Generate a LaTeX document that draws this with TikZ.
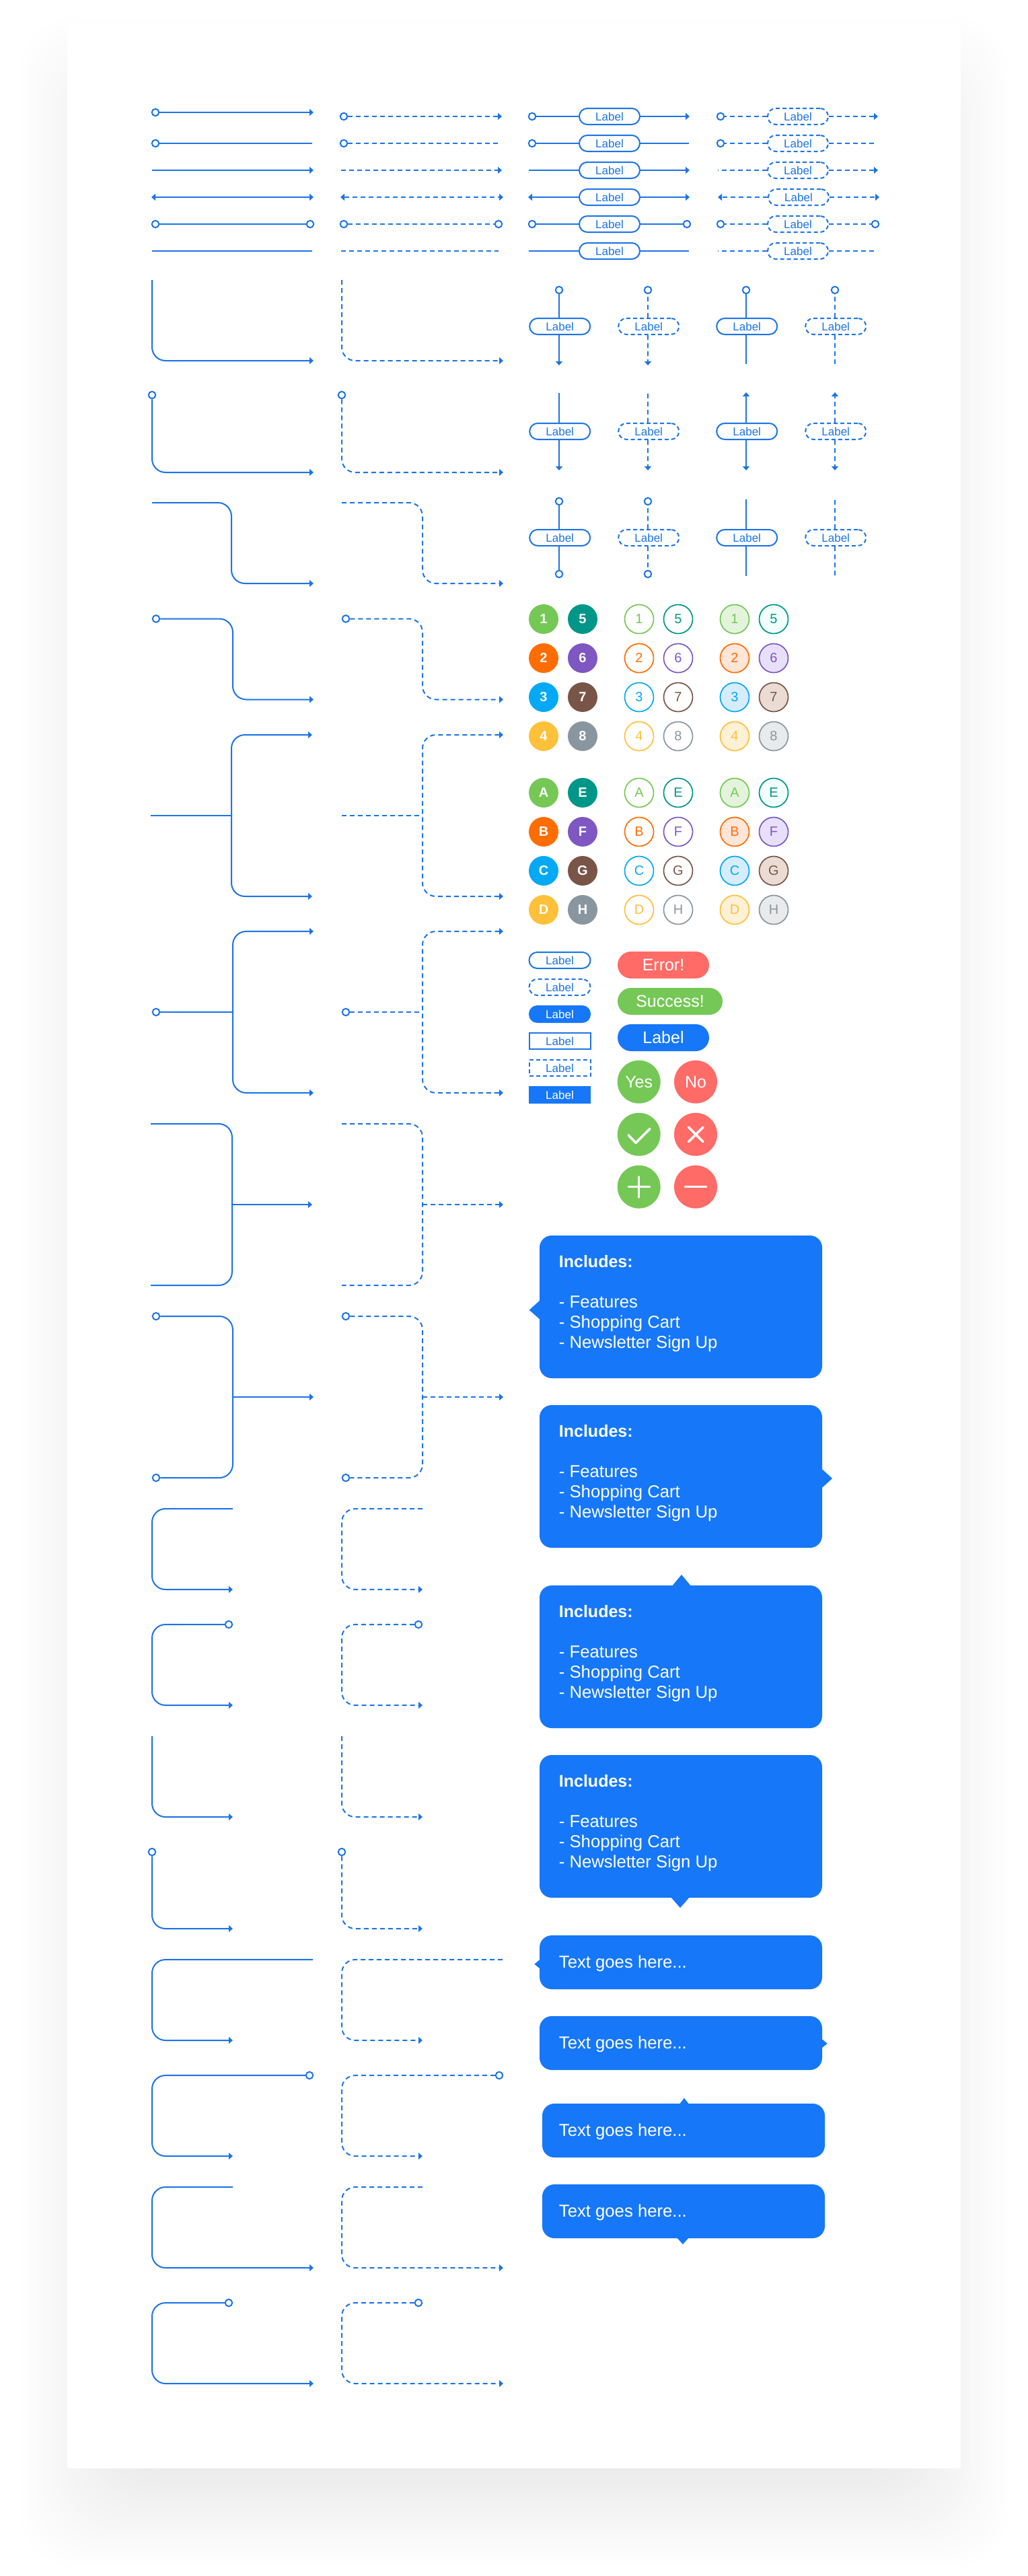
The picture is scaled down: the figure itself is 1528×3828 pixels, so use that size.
\documentclass[tikz,border=0pt]{standalone}
\usepackage{fontspec}
\setmainfont{Liberation Sans}
\usetikzlibrary{arrows.meta}
\definecolor{wirecol}{HTML}{1C74E6}
\definecolor{fillblue}{HTML}{1677F9}
\definecolor{redc}{HTML}{FF6B66}
\definecolor{greenc}{HTML}{75C856}
\definecolor{bA}{HTML}{75C856}\definecolor{lA}{HTML}{E3F3DC}
\definecolor{bB}{HTML}{FF6D00}\definecolor{lB}{HTML}{FFE6D9}
\definecolor{bC}{HTML}{03A9F4}\definecolor{lC}{HTML}{D6EDFF}
\definecolor{bD}{HTML}{FFC03A}\definecolor{lD}{HTML}{FFF1D6}
\definecolor{bE}{HTML}{009688}\definecolor{lE}{HTML}{F2FFFD}
\definecolor{bF}{HTML}{7E57C2}\definecolor{lF}{HTML}{E8E0FA}
\definecolor{bG}{HTML}{795548}\definecolor{lG}{HTML}{EADCD3}
\definecolor{bH}{HTML}{8A969F}\definecolor{lH}{HTML}{E8EAEC}
\newcommand\fsz[1]{\fontsize{#1}{#1}\selectfont}
\tikzset{
  Tp/.tip={Triangle[length=6pt,width=10pt]},
  wire/.style={draw=wirecol,line width=2pt},
  wired/.style={wire,dash pattern=on 7pt off 5pt},
  turn/.style={rounded corners=20pt},
  ring/.style={circle,draw=wirecol,line width=2pt,fill=white,inner sep=0pt,minimum size=10.5pt},
  tipcc/.style={},tipcr/.style={},tiprc/.style={},tiprr/.style={},
  tipca/.style={-Tp},tipra/.style={-Tp},tipaa/.style={Tp-Tp},
  pillbase/.style={rectangle,inner sep=0pt,minimum width=90pt,minimum height=24pt,text=wirecol,font=\fsz{17},line width=2pt},
  pillS/.style={pillbase,draw=wirecol,fill=white,rounded corners=12pt},
  pillD/.style={pillS,dash pattern=on 6pt off 4pt},
  pillF/.style={pillbase,fill=fillblue,text=white,rounded corners=12.5pt},
  rectS/.style={pillbase,draw=wirecol,fill=white},
  rectD/.style={rectS,dash pattern=on 6pt off 4pt},
  rectF/.style={pillbase,fill=fillblue,text=white},
  bigpill/.style={rectangle,rounded corners=20pt,inner sep=0pt,minimum height=40pt,text=white,font=\fsz{25}},
  bigdisc/.style={circle,inner sep=0pt,minimum size=64pt,text=white,font=\fsz{25}},
  icon/.style={draw=white,line width=3.5pt,line cap=round,line join=round},
  disc/.style={circle,inner sep=0pt,minimum size=44pt,font=\fsz{20}\bfseries,text=white},
  ringdisc/.style={circle,inner sep=0pt,minimum size=43pt,font=\fsz{20},line width=1.7pt},
  bubble/.style={rectangle,inner sep=0pt,fill=fillblue,rounded corners=18pt,minimum width=420pt},
  bubtext/.style={anchor=base west,inner sep=0pt,text=white,font=\fsz{25.7}},
  bubhead/.style={anchor=base west,inner sep=0pt,text=white,font=\fsz{25}\bfseries},
}
% end of a connector: r = ring, c = plain, a = arrow tip
\newcommand\mkend[4]{\ifx r#1\node[ring] (#2) at (#3,#4) {};\else\coordinate (#2) at (#3,#4);\fi}
\newcommand\hc[7]{\mkend{#3}{#2s}{#4}{#7}\mkend{#5}{#2e}{#6}{#7}\draw[#1,tip#3#5] (#2s) -- (#2e);}
\newcommand\hl[9]{\node[#2] (#3) at (#9,#8) {Label};\mkend{#4}{#3s}{#5}{#8}\mkend{#6}{#3e}{#7}{#8}%
  \draw[#1,tipc#4] (#3.west) -- (#3s);\draw[#1,tipc#6] (#3.east) -- (#3e);}
\newcommand\vl[9]{\node[#2,xshift=1.2pt] (#3) at (#4,#5) {Label};\mkend{#6}{#3t}{#4}{#7}\mkend{#8}{#3b}{#4}{#9}%
  \draw[#1,tipc#6] (#3t |- #3.north) -- (#3t);\draw[#1,tipc#8] (#3b |- #3.south) -- (#3b);}
\newcommand\Lsh[7]{\mkend{#3}{#2s}{#4}{#5}\coordinate (#2e) at (#6,#7);\draw[#1,turn,-Tp] (#2s) |- (#2e);}
\newcommand\Ssh[8]{\mkend{#3}{#2s}{#4}{#5}\coordinate (#2e) at (#7,#8);\coordinate (#2m) at (#6,{(#5+#8)/2});%
  \draw[#1,turn,-Tp] (#2s) -| (#2m) |- (#2e);}
\newcommand\Csh[8]{\mkend{#3}{#2s}{#4}{#5}\coordinate (#2e) at (#7,#8);\coordinate (#2m) at (#6,{(#5+#8)/2});%
  \draw[#1,turn,-Tp] (#2s) -| (#2m) |- (#2e);}
% fork: one input, two arrows; ym = #5, half height 120
\newcommand\Bsp[7]{\mkend{#3}{#2s}{#4}{#5}\coordinate (#2m) at (#6,#5);\coordinate (#2a) at (#7,{#5-120});\coordinate (#2b) at (#7,{#5+120});%
  \draw[#1,turn,Tp-Tp] (#2a) -| (#2m) |- (#2b);\draw[#1] (#2s) -- (#2m);}
% join: two inputs, one arrow
\newcommand\Bjn[7]{\mkend{#3}{#2a}{#4}{#5-120}\mkend{#3}{#2b}{#4}{#5+120}\coordinate (#2m) at (#6,#5);\coordinate (#2e) at (#7,#5);%
  \draw[#1,turn] (#2a) -| (#2m) |- (#2b);\draw[#1,-Tp] (#2m) -- (#2e);}
\newcommand\incl[2]{%
  \node[bubhead] (#1h) at (830.7,#2+47) {Includes:};
  \node[bubtext] (#1x) at (830.7,#2+107) {- Features};
  \node[bubtext] (#1y) at (830.7,#2+137) {- Shopping Cart};
  \node[bubtext] (#1z) at (830.7,#2+167) {- Newsletter Sign Up};}
\begin{document}
\begin{tikzpicture}[x=1pt,y=-1pt]
\useasboundingbox (0,0) rectangle (1528,3828);
\fill[white] (0,0) rectangle (1528,3828);
% card shadow
\foreach \i in {0,...,38}{
  \pgfmathsetmacro\g{\i*0.21}
  \fill[black!\g!white,rounded corners=90pt] ({25+4*\i},{20+4*\i}) rectangle ({1503-4*\i},{3820-4*\i});
}
\fill[white] (100,36) rectangle (1428,3668);
% straight connectors
\hc{wire}{a}{r}{231}{a}{466}{167}
\hc{wire}{b}{r}{231}{c}{464}{213}
\hc{wire}{c}{c}{226}{a}{466}{253}
\hc{wire}{d}{a}{225}{a}{466}{293}
\hc{wire}{e}{r}{231}{r}{461}{333}
\hc{wire}{f}{c}{226}{c}{464}{373}
\hc{wired}{g}{r}{511}{a}{746}{173}
\hc{wired}{h}{r}{511}{c}{741}{213}
\hc{wired}{i}{c}{507}{a}{746}{253}
\hc{wired}{j}{a}{506}{a}{748}{293}
\hc{wired}{k}{r}{511}{r}{741}{333}
\hc{wired}{l}{c}{507}{c}{741}{373}
% labelled horizontal connectors
\hl{wire}{pillS}{pa}{r}{791}{a}{1025}{173}{906}
\hl{wire}{pillS}{pb}{r}{791}{c}{1024}{213}{906}
\hl{wire}{pillS}{pc}{c}{786}{a}{1025}{253}{906}
\hl{wire}{pillS}{pd}{a}{785}{a}{1025}{293}{906}
\hl{wire}{pillS}{pe}{r}{791}{r}{1021}{333}{906}
\hl{wire}{pillS}{pf}{c}{786}{c}{1024}{373}{906}
\hl{wired}{pillD}{qa}{r}{1071}{a}{1305}{173}{1186}
\hl{wired}{pillD}{qb}{r}{1071}{c}{1302}{213}{1186}
\hl{wired}{pillD}{qc}{c}{1067}{a}{1305}{253}{1186}
\hl{wired}{pillD}{qd}{a}{1067}{a}{1307}{293}{1187}
\hl{wired}{pillD}{qe}{r}{1071}{r}{1301}{333}{1186}
\hl{wired}{pillD}{qf}{c}{1067}{c}{1302}{373}{1186}
% labelled vertical connectors
\vl{wire}{pillS}{va}{831}{485}{r}{431}{a}{543}
\vl{wired}{pillD}{vb}{963}{485}{r}{431}{a}{543}
\vl{wire}{pillS}{vc}{1109}{485}{r}{431}{c}{541}
\vl{wired}{pillD}{vd}{1241}{485}{r}{431}{c}{541}
\vl{wire}{pillS}{ve}{831}{641}{c}{584}{a}{699}
\vl{wired}{pillD}{vf}{963}{641}{c}{584}{a}{699}
\vl{wire}{pillS}{vg}{1109}{641}{a}{583}{a}{699}
\vl{wired}{pillD}{vh}{1241}{641}{a}{583}{a}{699}
\vl{wire}{pillS}{vi}{831}{799}{r}{745}{r}{853}
\vl{wired}{pillD}{vj}{963}{799}{r}{745}{r}{853}
\vl{wire}{pillS}{vk}{1109}{799}{c}{742}{c}{856}
\vl{wired}{pillD}{vl}{1241}{799}{c}{742}{c}{856}
% bent connectors, solid then dashed
\Lsh{wire}{LA}{c}{226}{416}{466}{536}
\Lsh{wired}{LB}{c}{508}{416}{748}{536}
\Lsh{wire}{LC}{r}{226}{587}{466}{702}
\Lsh{wired}{LD}{r}{508}{587}{748}{702}
\Ssh{wire}{SA}{c}{226}{747}{344}{466}{867}
\Ssh{wired}{SB}{c}{508}{747}{628}{748}{867}
\Ssh{wire}{SC}{r}{232}{919.5}{346}{466}{1039.5}
\Ssh{wired}{SD}{r}{514}{919.5}{628}{748}{1039.5}
\Bsp{wire}{FA}{c}{224}{1212}{344}{464}
\Bsp{wired}{FB}{c}{508}{1212}{628}{748}
\Bsp{wire}{FC}{r}{232}{1504}{346}{466}
\Bsp{wired}{FD}{r}{514}{1504}{628}{748}
\Bjn{wire}{JA}{c}{224}{1790}{345}{464}
\Bjn{wired}{JB}{c}{508}{1790}{628}{748}
\Bjn{wire}{JC}{r}{232}{2076}{346}{466}
\Bjn{wired}{JD}{r}{514}{2076}{628}{748}
\Csh{wire}{CA}{c}{346}{2242}{226}{346}{2362}
\Csh{wired}{CB}{c}{628}{2242}{508}{628}{2362}
\Csh{wire}{CC}{r}{340}{2414}{226}{346}{2534}
\Csh{wired}{CD}{r}{622}{2414}{508}{628}{2534}
\Lsh{wire}{LE}{c}{226}{2580}{346}{2700}
\Lsh{wired}{LF}{c}{508}{2580}{628}{2700}
\Lsh{wire}{LG}{r}{226}{2752}{346}{2866}
\Lsh{wired}{LH}{r}{508}{2752}{628}{2866}
\Csh{wire}{CE}{c}{465}{2912}{226}{346}{3032}
\Csh{wired}{CF}{c}{747}{2912}{508}{628}{3032}
\Csh{wire}{CG}{r}{460}{3084}{226}{346}{3204}
\Csh{wired}{CH}{r}{742}{3084}{508}{628}{3204}
\Csh{wire}{CI}{c}{346}{3250}{226}{466}{3370}
\Csh{wired}{CJ}{c}{628}{3250}{508}{748}{3370}
\Csh{wire}{CK}{r}{340}{3422}{226}{466}{3542}
\Csh{wired}{CL}{r}{622}{3422}{508}{748}{3542}
% numbered and lettered badges
\foreach \t/\xa/\xb/\xc/\y/\k in {
 1/808/950/1092/920/A,2/808/950/1092/978/B,3/808/950/1092/1036/C,4/808/950/1092/1094/D,
 5/866/1008/1150/920/E,6/866/1008/1150/978/F,7/866/1008/1150/1036/G,8/866/1008/1150/1094/H,
 A/808/950/1092/1178/A,B/808/950/1092/1236/B,C/808/950/1092/1294/C,D/808/950/1092/1352/D,
 E/866/1008/1150/1178/E,F/866/1008/1150/1236/F,G/866/1008/1150/1294/G,H/866/1008/1150/1352/H}{
  \node[disc,fill=b\k] (fa\t) at (\xa,\y) {\t};
  \node[ringdisc,draw=b\k,text=b\k,fill=white] (ou\t) at (\xb,\y) {\t};
  \node[ringdisc,draw=b\k,text=b\k,fill=l\k] (li\t) at (\xc,\y) {\t};
}
% small labels
\node[pillS,minimum width=91pt] (sa) at (832,1427) {Label};
\node[pillD,minimum width=91pt] (sb) at (832,1467) {Label};
\node[pillF,minimum width=92pt,minimum height=26pt] (sc) at (832,1507) {Label};
\node[rectS,minimum width=91pt] (sd) at (832,1547) {Label};
\node[rectD,minimum width=91pt] (se) at (832,1587) {Label};
\node[rectF,minimum width=92pt,minimum height=26pt] (sf) at (832,1627) {Label};
% large labels and buttons
\node[bigpill,fill=redc,minimum width=136pt] (err) at (986,1434) {Error!};
\node[bigpill,fill=greenc,minimum width=156pt] (suc) at (996,1488) {Success!};
\node[bigpill,fill=fillblue,minimum width=136pt] (lab) at (986,1542) {Label};
\node[bigdisc,fill=greenc] (yes) at (949.7,1607.7) {Yes};
\node[bigdisc,fill=redc] (no) at (1034,1607.7) {No};
\node[bigdisc,fill=greenc] (ok) at (949.7,1685.7) {};
\node[bigdisc,fill=redc] (cancel) at (1034,1685.7) {};
\node[bigdisc,fill=greenc] (add) at (949.7,1763.7) {};
\node[bigdisc,fill=redc] (minus) at (1034,1763.7) {};
\draw[icon] (934,1686.7) -- (945,1698.3) -- (966,1677.3);
\draw[icon] (1023.3,1675) -- (1045,1696.7) (1045,1675) -- (1023.3,1696.7);
\draw[icon] (934.3,1763.7) -- (965.7,1763.7) (949.7,1748.7) -- (949.7,1779.3);
\draw[icon] (1018.3,1763.7) -- (1049.7,1763.7);
% large callouts
\node[bubble,minimum height=212pt] (ba) at (1012,1942) {};
\fill[fillblue] (804,1931) -- (786.7,1946.7) -- (804,1962) -- cycle;
\incl{ba}{1836}
\node[bubble,minimum height=212pt] (bb) at (1012,2194) {};
\fill[fillblue] (1220,2181.5) -- (1237,2197) -- (1220,2212.5) -- cycle;
\incl{bb}{2088}
\node[bubble,minimum height=212pt] (bc) at (1012,2462) {};
\fill[fillblue] (998,2358) -- (1013,2340) -- (1028,2358) -- cycle;
\incl{bc}{2356}
\node[bubble,minimum height=212pt] (bd) at (1012,2714) {};
\fill[fillblue] (996,2818) -- (1011,2835) -- (1026,2818) -- cycle;
\incl{bd}{2608}
% small callouts
\node[bubble,minimum height=80pt] (be) at (1012,2916) {};
\fill[fillblue] (804,2910.7) -- (794.3,2918.7) -- (804,2926.7) -- cycle;
\node[bubtext] (bet) at (830.7,2924) {Text goes here...};
\node[bubble,minimum height=80pt] (bf) at (1012,3036) {};
\fill[fillblue] (1220,3028.7) -- (1229.7,3036.7) -- (1220,3044.7) -- cycle;
\node[bubtext] (bft) at (830.7,3044) {Text goes here...};
\node[bubble,minimum height=80pt] (bg) at (1016,3166) {};
\fill[fillblue] (1009,3128) -- (1017,3117.7) -- (1025,3128) -- cycle;
\node[bubtext] (bgt) at (830.7,3174) {Text goes here...};
\node[bubble,minimum height=80pt] (bh) at (1016,3286) {};
\fill[fillblue] (1005,3324) -- (1015,3335) -- (1025,3324) -- cycle;
\node[bubtext] (bht) at (830.7,3294) {Text goes here...};
\end{tikzpicture}
\end{document}
